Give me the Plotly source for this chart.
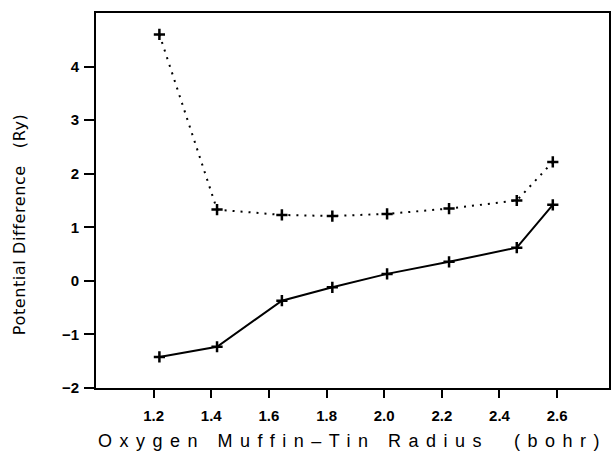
import plotly.graph_objects as go

# Data
radius = [1.22, 1.42, 1.645, 1.82, 2.01, 2.225, 2.46, 2.585]
upper = [4.60, 1.33, 1.23, 1.21, 1.25, 1.35, 1.50, 2.22]
lower = [-1.42, -1.23, -0.37, -0.12, 0.13, 0.355, 0.62, 1.42]
xticks = [1.2, 1.4, 1.6, 1.8, 2.0, 2.2, 2.4, 2.6]
xticklabels = ["1.2", "1.4", "1.6", "1.8", "2.0", "2.2", "2.4", "2.6"]
yticks = [-2, -1, 0, 1, 2, 3, 4]
xtitle = "Oxygen Muffin\u2013Tin Radius\u00a0\u00a0(bohr)"
ytitle = "Potential Difference\u00a0\u00a0\u00a0(Ry)"

tickfont = dict(size=15, family="Liberation Sans, Arial, sans-serif", weight="bold")

fig = go.Figure()
fig.add_trace(go.Scatter(
    x=radius, y=upper, mode="lines+markers",
    line=dict(color="black", width=2, dash="2px,6px"),
    marker=dict(symbol="cross-thin", size=8, line=dict(color="black", width=2.5)),
    showlegend=False))
fig.add_trace(go.Scatter(
    x=radius, y=lower, mode="lines+markers",
    line=dict(color="black", width=2),
    marker=dict(symbol="cross-thin", size=8, line=dict(color="black", width=2.5)),
    showlegend=False))

fig.update_layout(
    width=613, height=455, autosize=False,
    margin=dict(l=96, r=2, t=13, b=67),
    plot_bgcolor="white", paper_bgcolor="white",
    font=dict(family="Liberation Sans, Arial, sans-serif", color="black"),
)
fig.update_xaxes(
    range=[1.0, 2.78], tickvals=xticks, ticktext=xticklabels,
    showgrid=False, zeroline=False, showline=True, linecolor="black", linewidth=2,
    mirror=True, ticks="outside", ticklen=8, tickwidth=2, tickcolor="black",
    tickfont=tickfont, ticklabelstandoff=5,
    title=dict(text=xtitle,
               font=dict(size=18, family="Liberation Sans, Arial, sans-serif"),
               standoff=11),
)
fig.update_yaxes(
    range=[-2, 5], tickvals=yticks,
    showgrid=False, zeroline=False, showline=True, linecolor="black", linewidth=2,
    mirror=True, ticks="outside", ticklen=10, tickwidth=2, tickcolor="black",
    tickfont=tickfont, ticklabelstandoff=2,
)
fig.add_annotation(
    text=ytitle, textangle=-90, showarrow=False,
    xref="paper", yref="paper", x=-0.148, y=0.435,
    xanchor="center", yanchor="middle",
    font=dict(size=16, family="DejaVu Sans, sans-serif", color="black"),
)

post = """
var t = document.querySelector('.xtitle');
if (t) { t.style.letterSpacing = '7.5px'; }
var a = document.querySelectorAll('.annotation-text');
a.forEach(function(e){ e.style.letterSpacing = '0.6px'; });
"""
fig.write_html("out.html", post_script=post)
